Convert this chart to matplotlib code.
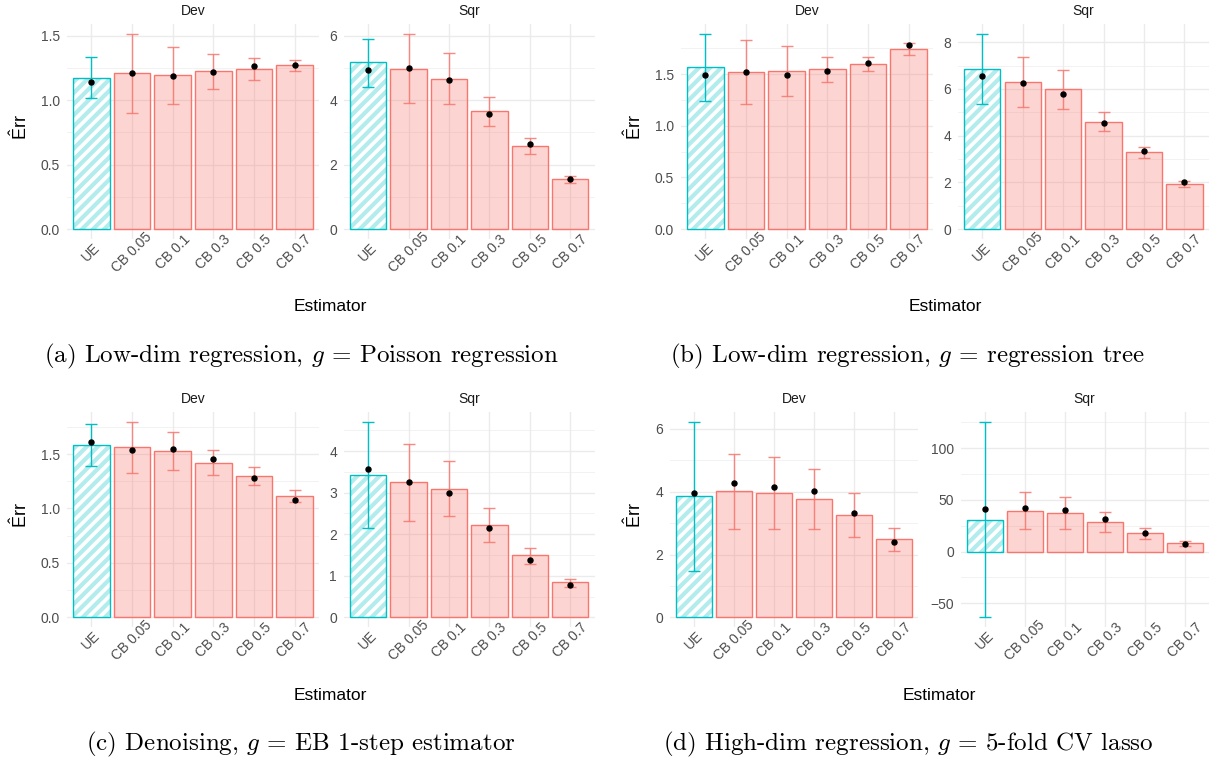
import numpy as np
import matplotlib.pyplot as plt

plt.rcParams['font.family'] = ['Liberation Sans', 'DejaVu Sans']
plt.rcParams['mathtext.fontset'] = 'custom'
plt.rcParams['mathtext.rm'] = 'Liberation Sans'
plt.rcParams['mathtext.it'] = 'Liberation Sans:italic'
plt.rcParams['hatch.linewidth'] = 3.0

estimators = ['UE', 'CB 0.05', 'CB 0.1', 'CB 0.3', 'CB 0.5', 'CB 0.7']

# (a) low-dim regression, poisson
a_dev_bar = [1.174, 1.208, 1.192, 1.223, 1.239, 1.270]
a_dev_pt = [1.140, 1.210, 1.187, 1.215, 1.262, 1.272]
a_dev_lo = [1.014, 0.902, 0.970, 1.083, 1.153, 1.226]
a_dev_hi = [1.337, 1.515, 1.415, 1.360, 1.324, 1.314]
a_sqr_bar = [5.17, 4.98, 4.67, 3.65, 2.57, 1.54]
a_sqr_pt = [4.95, 4.99, 4.62, 3.58, 2.63, 1.54]
a_sqr_lo = [4.41, 3.92, 3.89, 3.20, 2.32, 1.43]
a_sqr_hi = [5.90, 6.06, 5.46, 4.11, 2.81, 1.65]

# (b) low-dim regression, tree
b_dev_bar = [1.565, 1.516, 1.532, 1.545, 1.594, 1.739]
b_dev_pt = [1.490, 1.516, 1.494, 1.532, 1.610, 1.784]
b_dev_lo = [1.242, 1.206, 1.290, 1.419, 1.526, 1.684]
b_dev_hi = [1.890, 1.826, 1.768, 1.665, 1.668, 1.797]
b_sqr_bar = [6.85, 6.29, 5.98, 4.59, 3.28, 1.94]
b_sqr_pt = [6.55, 6.26, 5.78, 4.56, 3.32, 2.00]
b_sqr_lo = [5.34, 5.24, 5.14, 4.18, 3.04, 1.81]
b_sqr_hi = [8.36, 7.35, 6.80, 4.99, 3.50, 2.04]

# (c) denoising
c_dev_bar = [1.583, 1.564, 1.528, 1.417, 1.298, 1.113]
c_dev_pt = [1.613, 1.537, 1.543, 1.451, 1.276, 1.074]
c_dev_lo = [1.386, 1.325, 1.353, 1.307, 1.215, 1.061]
c_dev_hi = [1.779, 1.794, 1.699, 1.534, 1.380, 1.169]
c_sqr_bar = [3.43, 3.25, 3.09, 2.22, 1.49, 0.84]
c_sqr_pt = [3.57, 3.26, 2.99, 2.14, 1.39, 0.79]
c_sqr_lo = [2.14, 2.32, 2.43, 1.82, 1.29, 0.74]
c_sqr_hi = [4.70, 4.18, 3.76, 2.64, 1.68, 0.93]

# (d) high-dim regression, lasso
d_dev_bar = [3.85, 4.01, 3.96, 3.77, 3.27, 2.49]
d_dev_pt = [3.96, 4.27, 4.14, 4.04, 3.31, 2.40]
d_dev_lo = [1.49, 2.81, 2.81, 2.81, 2.57, 2.12]
d_dev_hi = [6.22, 5.21, 5.11, 4.71, 3.95, 2.84]
d_sqr_bar = [31.0, 39.7, 37.7, 28.4, 18.1, 8.4]
d_sqr_pt = [41.0, 42.3, 40.0, 31.3, 18.4, 7.7]
d_sqr_lo = [-63.5, 21.6, 22.3, 18.7, 12.6, 5.2]
d_sqr_hi = [125.2, 57.7, 53.2, 38.4, 23.2, 10.3]

dev_ticks = [0, 0.5, 1.0, 1.5]
dev_labels = ['0.0', '0.5', '1.0', '1.5']
a_sqr_ticks = [0, 2, 4, 6]
b_sqr_ticks = [0, 2, 4, 6, 8]
c_sqr_ticks = [0, 1, 2, 3, 4]
d_dev_ticks = [0, 2, 4, 6]
d_sqr_ticks = [-50, 0, 50, 100]

captions = [r'(a) Low-dim regression, $g$ = Poisson regression',
            r'(b) Low-dim regression, $g$ = regression tree',
            r'(c) Denoising, $g$ = EB 1-step estimator',
            r'(d) High-dim regression, $g$ = 5-fold CV lasso']

W, H = 1211, 759
CYAN = '#00BFC4'
RED = '#F8766D'

fig = plt.figure(figsize=(W / 100, H / 100), dpi=100)


def px_axes(x0, x1, y0, y1):
    return fig.add_axes([x0 / W, 1 - y1 / H, (x1 - x0) / W, (y1 - y0) / H])


def panel(ax, title, bar, pt, lo, hi, ticks, labels):
    x = np.arange(1, len(estimators) + 1)
    bot = min(0, min(lo))
    top = max(max(hi), max(bar), max(pt))
    pad = 0.05 * (top - bot)
    ax.set_xlim(0.4, 6.6)
    ax.set_ylim(bot - pad, top + pad)

    # grid like theme_minimal
    step = ticks[1] - ticks[0]
    minors = [t + step / 2 for t in [ticks[0] - step] + list(ticks)]
    for m in minors:
        if bot - pad < m < top + pad:
            ax.axhline(m, color='#F0F0F0', lw=0.6, zorder=0)
    for t in ticks:
        ax.axhline(t, color='#EBEBEB', lw=1.0, zorder=0)
    for xi in x:
        ax.axvline(xi, color='#EBEBEB', lw=1.0, zorder=0)

    # UE bar with stripes, CB bars filled
    ax.bar(x[0], bar[0], width=0.9, facecolor='white', edgecolor='#B2ECED',
           linewidth=0, hatch='///', zorder=2)
    ax.bar(x[0], bar[0], width=0.9, fill=False, edgecolor=CYAN, linewidth=1.0, zorder=3)
    ax.bar(x[1:], bar[1:], width=0.9, facecolor=(0.973, 0.463, 0.427, 0.3),
           edgecolor=RED, linewidth=1.0, zorder=2)

    pt = np.array(pt)
    err = [pt - np.array(lo), np.array(hi) - pt]
    cols = [CYAN] + [RED] * 5
    for i in range(len(x)):
        ax.errorbar(x[i], pt[i], yerr=[[err[0][i]], [err[1][i]]], fmt='none',
                    ecolor=cols[i], elinewidth=1.0, capsize=4.3, capthick=1.0,
                    alpha=1 if i == 0 else 0.85, zorder=4)
    ax.plot(x, pt, 'o', color='black', markersize=3.6, zorder=5)

    ax.set_xticks(x)
    ax.set_xticklabels(estimators, rotation=45, ha='center', va='center',
                       rotation_mode='anchor')
    ax.set_yticks(ticks)
    ax.set_yticklabels(labels)
    ax.tick_params(axis='x', length=0, pad=9.5, labelsize=10, labelcolor='#4D4D4D')
    ax.tick_params(axis='y', length=0, pad=5, labelsize=10, labelcolor='#4D4D4D')
    for s in ax.spines.values():
        s.set_visible(False)
    ax.set_title(title, fontsize=10, color='#1A1A1A', pad=6.5)


rows = [(24, 238.8), (412.3, 627.1)]
cols_ab = [(67, 319), (344, 594.5)]
cols_bd = [(681, 933), (958, 1208.7)]
cols_d = [(670, 918), (960.7, 1208.7)]

setups = [
    (rows[0], cols_ab, (a_dev_bar, a_dev_pt, a_dev_lo, a_dev_hi, dev_ticks, dev_labels),
     (a_sqr_bar, a_sqr_pt, a_sqr_lo, a_sqr_hi, a_sqr_ticks, [str(t) for t in a_sqr_ticks]),
     20, 301),
    (rows[0], cols_bd, (b_dev_bar, b_dev_pt, b_dev_lo, b_dev_hi, dev_ticks, dev_labels),
     (b_sqr_bar, b_sqr_pt, b_sqr_lo, b_sqr_hi, b_sqr_ticks, [str(t) for t in b_sqr_ticks]),
     634, 908),
    (rows[1], cols_ab, (c_dev_bar, c_dev_pt, c_dev_lo, c_dev_hi, dev_ticks, dev_labels),
     (c_sqr_bar, c_sqr_pt, c_sqr_lo, c_sqr_hi, c_sqr_ticks, [str(t) for t in c_sqr_ticks]),
     20, 301),
    (rows[1], cols_d, (d_dev_bar, d_dev_pt, d_dev_lo, d_dev_hi, d_dev_ticks, [str(t) for t in d_dev_ticks]),
     (d_sqr_bar, d_sqr_pt, d_sqr_lo, d_sqr_hi, d_sqr_ticks,
      [str(t).replace('-', '\u2212') for t in d_sqr_ticks]),
     634, 908),
]

for k, (row, cols, dev, sqr, ylab_x, cap_x) in enumerate(setups):
    y0, y1 = row
    ax1 = px_axes(cols[0][0], cols[0][1], y0, y1)
    panel(ax1, 'Dev', *dev)
    ax2 = px_axes(cols[1][0], cols[1][1], y0, y1)
    panel(ax2, 'Sqr', *sqr)

    fig.text(ylab_x / W, 1 - (y0 + 103) / H, r'$\hat{\mathrm{E}}\mathrm{rr}$', rotation=90,
             ha='center', va='center', fontsize=13)
    fig.text((cols[0][0] + cols[1][1]) / 2 / W, 1 - (y0 + 283) / H, 'Estimator',
             ha='center', va='center', fontsize=12.5)
    fig.text(cap_x / W, 1 - (y0 + 332.5) / H, captions[k], ha='center', va='center',
             fontsize=18, family='cmr10', math_fontfamily='cm')

fig.savefig('out.png', dpi=100)
